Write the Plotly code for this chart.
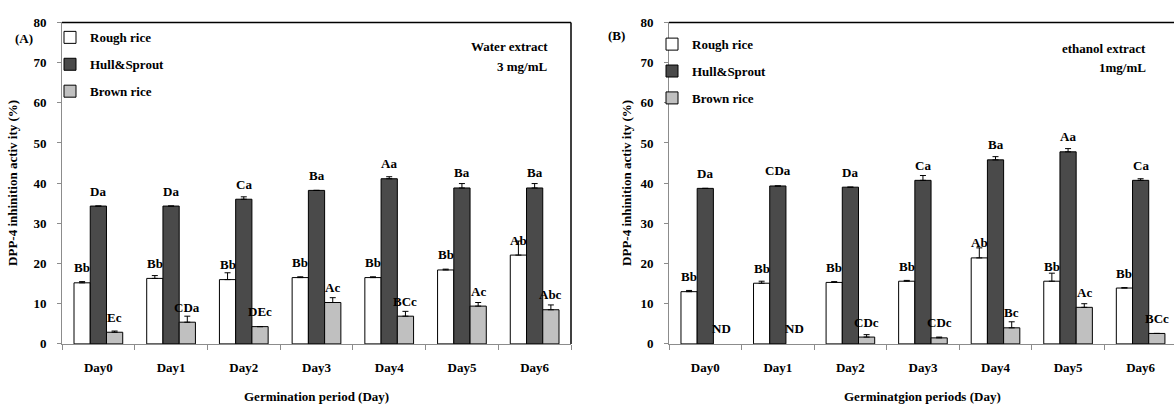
import plotly.graph_objects as go

days = ["Day0", "Day1", "Day2", "Day3", "Day4", "Day5", "Day6"]

# (A) Water extract, 3 mg/mL  (None = no error bar)
a_rough = [15.2, 16.3, 16.0, 16.5, 16.5, 18.4, 22.1]
a_rough_err = [0.3, 0.7, 1.7, 0.2, 0.2, 0.2, 3.5]
a_hull = [34.3, 34.3, 36.0, 38.2, 41.1, 38.8, 38.8]
a_hull_err = [None, None, 0.6, None, 0.5, 1.1, 1.1]
a_brown = [2.9, 5.4, 4.3, 10.3, 6.9, 9.4, 8.5]
a_brown_err = [0.3, 1.5, None, 1.2, 1.2, 0.9, 1.2]
a_rough_lbl = ["Bb", "Bb", "Bb", "Bb", "Bb", "Bb", "Ab"]
a_hull_lbl = ["Da", "Da", "Ca", "Ba", "Aa", "Ba", "Ba"]
a_brown_lbl = ["Ec", "CDa", "DEc", "Ac", "BCc", "Ac", "Abc"]

# (B) Ethanol extract, 1 mg/mL (brown rice None = not detected)
b_rough = [13.0, 15.1, 15.3, 15.6, 21.4, 15.6, 13.9]
b_rough_err = [0.3, 0.5, 0.2, 0.2, 2.5, 2.0, 0.1]
b_hull = [38.7, 39.3, 39.0, 40.7, 45.8, 47.8, 40.7]
b_hull_err = [None, None, None, 1.2, 0.8, 0.8, 0.4]
b_brown = [None, None, 1.7, 1.5, 4.0, 9.1, 2.6]
b_brown_err = [None, None, 0.6, 0.2, 1.5, 0.9, None]
b_rough_lbl = ["Bb", "Bb", "Bb", "Bb", "Ab", "Bb", "Bb"]
b_hull_lbl = ["Da", "CDa", "Da", "Ca", "Ba", "Aa", "Ca"]
b_brown_lbl = ["ND", "ND", "CDc", "CDc", "Bc", "Ac", "BCc"]

series_names = ["Rough rice", "Hull&Sprout", "Brown rice"]
series_colors = ["#ffffff", "#4a4a4a", "#c0c0c0"]

FONT = "Liberation Serif"
BARGAP = 0.33
bar_w = (1 - BARGAP) / 3


def bold_font(size=13):
    return dict(family=FONT, size=size, color="black", weight="bold")


fig = go.Figure()
annotations = []

panels = [
    ("x", "y", "legend",
     [a_rough, a_hull, a_brown], [a_rough_err, a_hull_err, a_brown_err],
     [a_rough_lbl, a_hull_lbl, a_brown_lbl]),
    ("x2", "y2", "legend2",
     [b_rough, b_hull, b_brown], [b_rough_err, b_hull_err, b_brown_err],
     [b_rough_lbl, b_hull_lbl, b_brown_lbl]),
]

for xa, ya, leg, vals, errs, lbls in panels:
    for k in range(3):
        fig.add_trace(go.Bar(
            x=days, y=vals[k], name=series_names[k],
            xaxis=xa, yaxis=ya, legend=leg, legendgroup=f"{leg}{k}",
            marker=dict(color=series_colors[k], line=dict(color="black", width=1)),
            error_y=dict(type="data", symmetric=False, array=errs[k],
                         arrayminus=[0 if e is not None else None for e in errs[k]],
                         color="black", thickness=1, width=3),
        ))
        offset = (k - 1) * bar_w
        for i, (v, t) in enumerate(zip(vals[k], lbls[k])):
            annotations.append(dict(
                x=i + offset, y=v if v is not None else 0,
                xref=xa, yref=ya, text=t, showarrow=False,
                yanchor="middle", yshift=15, font=bold_font(13),
            ))

W, H = 1174, 416
ybot, ytop = 1 - 349.5 / H, 1 - 16 / H
xa_dom = [62 / W, 571 / W]
xb_dom = [669 / W, 1.0]

xcommon = dict(type="category", showline=True, linecolor="#8c8c8c", linewidth=1,
               ticks="outside", ticklen=5, tickcolor="#8c8c8c", tickson="boundaries",
               tickfont=bold_font(13), ticklabelstandoff=12, showgrid=False,
               zeroline=False)
ycommon = dict(range=[0, 80], dtick=10, showline=True, linecolor="#8c8c8c", linewidth=1,
               ticks="outside", ticklen=4, tickcolor="#8c8c8c", tickfont=bold_font(13),
               ticklabelstandoff=8, showgrid=False, zeroline=False, tickformat="d")

# Axis titles and panel captions
texts = [
    dict(x=13, y=182.5, text="DPP-4 inhinition activ ity (%)", textangle=-90),
    dict(x=627, y=182.5, text="DPP-4 inhinition activ ity (%)", textangle=-90),
    dict(x=316.5, y=404, text="Germination period (Day)"),
    dict(x=922, y=404, text="Germinatgion periods (Day)"),
    dict(x=24, y=33, text="(A)"),
    dict(x=616, y=30, text="(B)"),
]
for t in texts:
    annotations.append(dict(
        x=t["x"] / W, y=1 - t["y"] / H, xref="paper", yref="paper",
        text=t["text"], showarrow=False, textangle=t.get("textangle", 0),
        xanchor="center", yanchor="middle", font=bold_font(13),
    ))
for x, y, t in [(550, 41, "Water extract"), (550, 62, "3 mg/mL"),
                (1148, 43, "ethanol extract"), (1148, 63, "1mg/mL")]:
    annotations.append(dict(
        x=x / W, y=1 - y / H, xref="paper", yref="paper", text=t,
        showarrow=False, xanchor="right", yanchor="middle", font=bold_font(13),
    ))

# Plot frame: top edge for both panels, right edge for panel A
shapes = [
    dict(type="line", xref="x domain", yref="y domain", x0=0, x1=1, y0=1, y1=1,
         line=dict(color="black", width=1.5)),
    dict(type="line", xref="x domain", yref="y domain", x0=1, x1=1, y0=0, y1=1,
         line=dict(color="black", width=1.5)),
    dict(type="line", xref="x2 domain", yref="y2 domain", x0=0, x1=1, y0=1, y1=1,
         line=dict(color="black", width=1.5)),
]

legend_style = dict(font=bold_font(13), bgcolor="rgba(0,0,0,0)", borderwidth=0,
                    itemwidth=30, tracegroupgap=7, xanchor="left", yanchor="top",
                    traceorder="grouped")

fig.update_layout(
    width=W, height=H, margin=dict(l=0, r=0, t=0, b=0),
    paper_bgcolor="white", plot_bgcolor="white",
    barmode="group", bargap=BARGAP, bargroupgap=0,
    xaxis=dict(domain=xa_dom, anchor="y", range=[-0.5, 6.5], **xcommon),
    yaxis=dict(domain=[ybot, ytop], anchor="x", **ycommon),
    xaxis2=dict(domain=xb_dom, anchor="y2", range=[-0.5, 6.46], **xcommon),
    yaxis2=dict(domain=[ybot, ytop], anchor="x2", **ycommon),
    legend=dict(x=50 / W, y=1 - 16 / H, **legend_style),
    legend2=dict(x=652 / W, y=1 - 23 / H, **legend_style),
    annotations=annotations, shapes=shapes,
    font=bold_font(13),
)

fig.write_html("out.html")
